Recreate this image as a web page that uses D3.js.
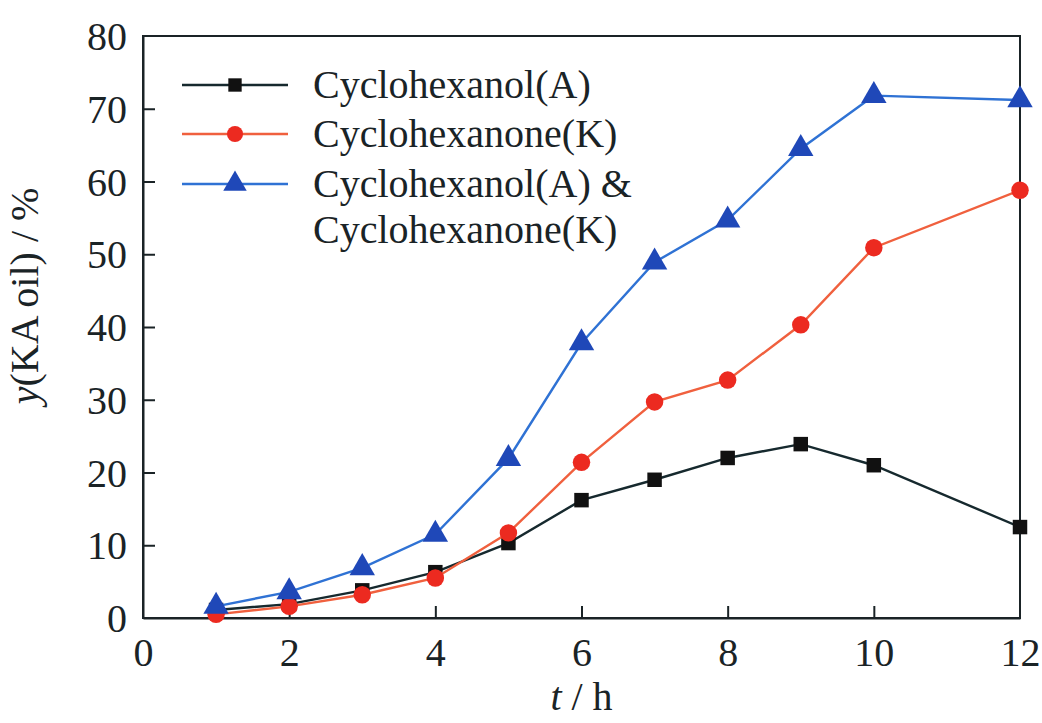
<!DOCTYPE html>
<html>
<head>
<meta charset="utf-8">
<script src="https://cdn.jsdelivr.net/npm/d3@7"></script>
<style>
  body { margin: 0; background: #fff; }
  text { font-family: "Liberation Serif", "Times New Roman", serif; fill: #1a2326; }
</style>
</head>
<body>
<div id="chart"></div>
<script>
// reaction time (h)
const times = [1, 2, 3, 4, 5, 6, 7, 8, 9, 10, 12];
// yields, %
const alcoholA = [1.1, 1.9, 3.8, 6.3, 10.3, 16.2, 19.0, 22.0, 23.9, 21.0, 12.5];
const ketoneK  = [0.5, 1.6, 3.2, 5.5, 11.7, 21.4, 29.7, 32.7, 40.3, 50.9, 58.8];
const totalKA  = [1.6, 3.6, 6.9, 11.5, 21.9, 37.8, 48.9, 54.7, 64.5, 71.8, 71.2];

const xTicks = [0, 2, 4, 6, 8, 10, 12];
const yTicks = [0, 10, 20, 30, 40, 50, 60, 70, 80];
const legendLabels = [["Cyclohexanol(A)"], ["Cyclohexanone(K)"], ["Cyclohexanol(A) &", "Cyclohexanone(K)"]];

const width = 1042, height = 723;
const margin = {top: 36, right: 22, bottom: 105, left: 143};

const svg = d3.select("#chart").append("svg")
  .attr("width", width)
  .attr("height", height);

const x = d3.scaleLinear().domain([0, 12]).range([margin.left, width - margin.right]);
const y = d3.scaleLinear().domain([0, 80]).range([height - margin.bottom, margin.top]);

const axisColor = "#1a2326";
const fontSize = 40;

//--------------------------------------------------
// frame + axes
//--------------------------------------------------
svg.append("rect")
  .attr("x", x(0)).attr("y", y(80))
  .attr("width", x(12) - x(0)).attr("height", y(0) - y(80))
  .attr("fill", "none").attr("stroke", axisColor).attr("stroke-width", 2);

let xAxis = svg.append("g")
  .attr("transform", `translate(0,${y(0)})`)
  .call(d3.axisBottom(x).tickValues(xTicks).tickSizeInner(-12).tickSizeOuter(0).tickPadding(20));
let yAxis = svg.append("g")
  .attr("transform", `translate(${x(0)},0)`)
  .call(d3.axisLeft(y).tickValues(yTicks).tickSizeInner(-12).tickSizeOuter(0).tickPadding(16));

[xAxis, yAxis].forEach(g => {
  g.select(".domain").attr("stroke", axisColor).attr("stroke-width", 2);
  g.selectAll(".tick line").attr("stroke", axisColor).attr("stroke-width", 2);
  g.selectAll(".tick text").attr("font-size", fontSize).attr("fill", axisColor)
    .style("font-family", "'Liberation Serif', serif");
});
// no inner tick at the ends
xAxis.selectAll(".tick").filter(d => d === 0 || d === 12).select("line").remove();
yAxis.selectAll(".tick").filter(d => d === 0 || d === 80).select("line").remove();
yAxis.selectAll(".tick text").attr("dy", "0.34em");

//--------------------------------------------------
// axis titles
//--------------------------------------------------
svg.append("text")
  .attr("x", x(6)).attr("y", 710)
  .attr("text-anchor", "middle").attr("font-size", fontSize)
  .html('<tspan font-style="italic">t</tspan> / h');

svg.append("text")
  .attr("transform", "translate(38,296) rotate(-90)")
  .attr("text-anchor", "middle").attr("font-size", fontSize)
  .html('<tspan font-style="italic">y</tspan>(KA oil) / %');

//--------------------------------------------------
// series
//--------------------------------------------------
const series = [
  {values: alcoholA, line: "#16292e", fill: "#111111", shape: d3.symbolSquare, size: 210},
  {values: ketoneK, line: "#f0603e", fill: "#ec2a20", shape: d3.symbolCircle, size: 240},
  {values: totalKA, line: "#2f72d4", fill: "#1f48b8", shape: d3.symbolTriangle, size: 280}
];

const line = d3.line().x(d => x(d[0])).y(d => y(d[1]));

series.forEach(s => {
  let pts = times.map((t, i) => [t, s.values[i]]);
  svg.append("path")
    .datum(pts)
    .attr("d", line)
    .attr("fill", "none")
    .attr("stroke", s.line)
    .attr("stroke-width", 2.4);
  svg.selectAll(null)
    .data(pts)
    .enter()
    .append("path")
    .attr("d", d3.symbol().type(s.shape).size(s.size))
    .attr("transform", d => `translate(${x(d[0])},${y(d[1])})`)
    .attr("fill", s.fill);
});

//--------------------------------------------------
// legend
//--------------------------------------------------
const legendRows = [85, 134, 184];
series.forEach((s, i) => {
  let ly = legendRows[i];
  svg.append("line")
    .attr("x1", 182).attr("x2", 288).attr("y1", ly).attr("y2", ly)
    .attr("stroke", s.line).attr("stroke-width", 2.4);
  svg.append("path")
    .attr("d", d3.symbol().type(s.shape).size(s.size * 0.85))
    .attr("transform", `translate(235,${ly})`)
    .attr("fill", s.fill);
  legendLabels[i].forEach((lab, j) => {
    svg.append("text")
      .attr("x", 313).attr("y", ly + j * 46)
      .attr("dy", "0.33em")
      .attr("font-size", fontSize)
      .text(lab);
  });
});
</script>
</body>
</html>
